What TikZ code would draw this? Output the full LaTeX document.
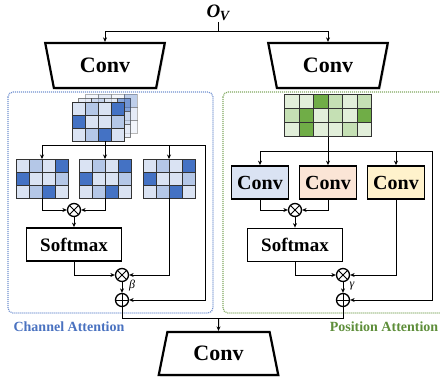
\documentclass[tikz,border=0pt]{standalone}
\usepackage{fontspec}
\setmainfont{Liberation Serif}
\usetikzlibrary{arrows.meta,shadows,shapes.geometric}
\definecolor{bL}{HTML}{DAE3F3}
\definecolor{bM}{HTML}{B4C7E7}
\definecolor{bD}{HTML}{4472C4}
\definecolor{gL}{HTML}{E2EFDA}
\definecolor{gM}{HTML}{C5E0B4}
\definecolor{gD}{HTML}{70AD47}
\definecolor{gridline}{HTML}{333333}
\definecolor{chblue}{HTML}{4A72C0}
\definecolor{posgreen}{HTML}{5E8E3A}
\definecolor{dotblue}{HTML}{7090D0}
\definecolor{dotgreen}{HTML}{80A860}
\definecolor{kblue}{HTML}{DAE3F3}
\definecolor{korange}{HTML}{FBE5D6}
\definecolor{kyellow}{HTML}{FFF2CC}
\newcommand\mkBgrid[3]{%
  \foreach \c [count=\i from 0] in {L,M,L,D,D,L,L,M,L,M,D,L}{%
    \pgfmathtruncatemacro\cc{mod(\i,4)}%
    \pgfmathtruncatemacro\rr{\i/4}%
    \filldraw[draw=gridline, line width=1, fill=b\c, opacity=#3] ({#1+\cc*13},{#2+\rr*13}) rectangle ++(13,13);
  }}
\newcommand\mkGgrid[2]{%
  \foreach \c [count=\i from 0] in {L,L,D,M,L,M,M,D,L,M,L,D,L,D,L,L,M,L}{%
    \pgfmathtruncatemacro\cc{mod(\i,6)}%
    \pgfmathtruncatemacro\rr{\i/6}%
    \filldraw[draw=gridline, line width=1, fill=g\c] ({#1+\cc*14.5},{#2+\rr*14.3}) rectangle ++(14.5,14.3);
  }}
\begin{document}
\begin{tikzpicture}[x=1pt,y=-1pt,
  arr/.style={line width=1, -{Stealth[length=4.5pt,width=4pt]}},
  ln/.style={line width=1},
  gridnode/.style={inner sep=0, outer sep=0},
  trapbox/.style={trapezium, draw, fill=white, line width=2.2, trapezium stretches=true,
    trapezium left angle=74, trapezium right angle=74, minimum width=120, minimum height=45,
    inner sep=0, font=\fontsize{22}{22}\selectfont\bfseries,
    drop shadow={opacity=0.25, shadow xshift=1.5pt, shadow yshift=-1.5pt}},
  kbox/.style={draw, line width=1.8, minimum width=57, minimum height=33, inner sep=0,
    font=\fontsize{20}{20}\selectfont\bfseries},
  smbox/.style={draw, fill=white, line width=1.8, minimum width=95, minimum height=33, inner sep=0,
    font=\fontsize{19}{19}\selectfont\bfseries},
  opcirc/.style={circle, draw, fill=white, line width=1.3, minimum size=13, inner sep=0},
  times/.style={opcirc, path picture={
    \draw[line width=1] (path picture bounding box.north west) -- (path picture bounding box.south east)
      (path picture bounding box.north east) -- (path picture bounding box.south west);}},
  plus/.style={opcirc, path picture={
    \draw[line width=1] (path picture bounding box.north) -- (path picture bounding box.south)
      (path picture bounding box.east) -- (path picture bounding box.west);}},
  dotbox/.style={line width=1.2, dash pattern=on 1pt off 1pt, rounded corners=5},
  glabel/.style={font=\fontsize{14}{14}\selectfont\bfseries, inner sep=0}
]
\useasboundingbox (0,0) rectangle (440,383);

% attention regions
\draw[dotbox, draw=dotblue] (8,92) rectangle (213,313);
\draw[dotbox, draw=dotgreen] (223,92) rectangle (452,313);
\node[glabel, text=chblue] (lab1) at (69,327) {Channel Attention};
\node[glabel, text=posgreen] (lab2) at (384,327) {Position Attention};

% input
\node[inner sep=0.5] (ov) at (218,13) {\fontsize{19}{19}\selectfont\bfseries\itshape O\kern-0.5pt\raisebox{-0.4ex}{\fontsize{14}{14}\selectfont V}};
\coordinate (split) at (218,31);

% top convs
\node[trapbox, shape border rotate=180] (c1) at (105,65.5) {Conv};
\node[trapbox, shape border rotate=180] (c2) at (328,65.5) {Conv};
\node[trapbox, minimum height=43] (c3) at (218.5,353.5) {Conv};

\draw[ln] (ov.south) -- (split);
\draw[arr] (split) -| (c1.north);
\draw[arr] (split) -| (c2.north);

% ---------- channel attention ----------
\mkBgrid{85}{94}{0.35}
\mkBgrid{78.5}{98}{0.6}
\mkBgrid{72}{102}{1}
\node[gridnode, minimum width=66, minimum height=47] (stk) at (105,117.5) {};

\mkBgrid{16}{159}{1}
\mkBgrid{79}{159}{1}
\mkBgrid{143}{159}{1}
\node[gridnode, minimum width=52, minimum height=39] (g1) at (42,178.5) {};
\node[gridnode, minimum width=52, minimum height=39] (g2) at (105,178.5) {};
\node[gridnode, minimum width=52, minimum height=39] (g3) at (169,178.5) {};

\coordinate (bj) at (105,145);
\coordinate (bjr) at (205,145);

\node[times] (m1) at (74,210) {};
\node[smbox] (s1) at (74,244.5) {Softmax};
\node[times] (m2) at (122,275) {};
\node[plus] (p1) at (122,300) {};
\node[inner sep=0, font=\fontsize{12}{12}\selectfont\itshape] (beta) at (132,286) {β};

\draw[ln] (stk.south) -- (bj);
\draw[arr] (bj) -| (g1.north);
\draw[arr] (bj) -- (g2.north);
\draw[arr] (bj) -| (g3.north);
\draw[arr] (bj) -- (bjr) |- (p1.east);
\draw[arr] (g1.south) |- (m1.west);
\draw[arr] (g2.south) |- (m1.east);
\draw[arr] (m1.south) -- (s1.north);
\draw[arr] (s1.south) |- (m2.west);
\draw[arr] (g3.south) |- (m2.east);
\draw[arr] (m2.south) -- (p1.north);

% ---------- position attention ----------
\mkGgrid{284.5}{94}
\node[gridnode, minimum width=87, minimum height=43] (gg) at (328,115.5) {};

\coordinate (gj) at (328,151);
\coordinate (gjr) at (432,151);

\node[kbox, fill=kblue] (k1) at (260,182.5) {Conv};
\node[kbox, fill=korange] (k2) at (328,182.5) {Conv};
\node[kbox, fill=kyellow] (k3) at (396,182.5) {Conv};

\node[times] (m3) at (295,210) {};
\node[smbox] (s2) at (295,245) {Softmax};
\node[times] (m4) at (343,275) {};
\node[plus] (p2) at (343,300) {};
\node[inner sep=0, font=\fontsize{12}{12}\selectfont\itshape] (gamma) at (352,286) {γ};

\draw[ln] (gg.south) -- (gj);
\draw[arr] (gj) -| (k1.north);
\draw[arr] (gj) -- (k2.north);
\draw[arr] (gj) -| (k3.north);
\draw[arr] (gj) -- (gjr) |- (p2.east);
\draw[arr] (k1.south) |- (m3.west);
\draw[arr] (k2.south) |- (m3.east);
\draw[arr] (m3.south) -- (s2.north);
\draw[arr] (s2.south) |- (m4.west);
\draw[arr] (k3.south) |- (m4.east);
\draw[arr] (m4.south) -- (p2.north);

% merge
\coordinate (mj) at (218.5,318);
\draw[ln] (p1.south) |- (mj);
\draw[ln] (p2.south) |- (mj);
\draw[arr] (mj) -- (c3.north);
\end{tikzpicture}
\end{document}
